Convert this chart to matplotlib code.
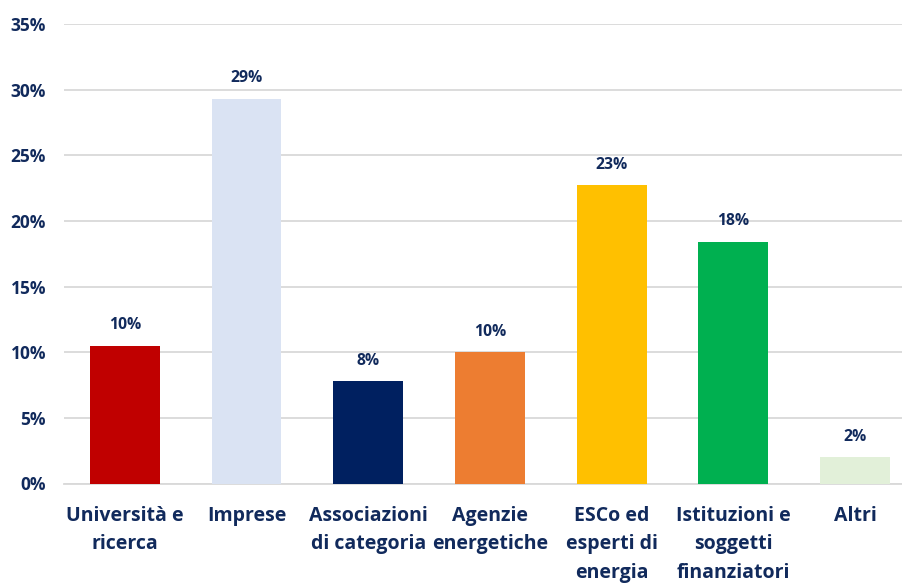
import matplotlib
matplotlib.use("Agg")
import matplotlib.pyplot as plt
from matplotlib.ticker import FuncFormatter

categories = ["Università e\nricerca", "Imprese", "Associazioni\ndi categoria", "Agenzie\nenergetiche",
              "ESCo ed\nesperti di\nenergia", "Istituzioni e\nsoggetti\nfinanziatori", "Altri"]
values = [10.5, 29.3, 7.8, 10.0, 22.7, 18.4, 2.0]
labels = ["10%", "29%", "8%", "10%", "23%", "18%", "2%"]
colors = ["#C00000", "#DAE3F3", "#002060", "#ED7D31", "#FFC000", "#00B050", "#E2F0D9"]
yticks = [0, 5, 10, 15, 20, 25, 30, 35]

txt = "#112A5C"
plt.rcParams['font.family'] = ['Open Sans', 'DejaVu Sans']

W, H = 903, 583
fig = plt.figure(figsize=(W/100, H/100), dpi=100)
ax = fig.add_axes([64/W, 1-483.5/H, (W-64)/W, (483.5-24)/H])

x = range(len(categories))
ax.bar(x, values, width=70/122, color=colors, zorder=3)
for i, (v, l) in enumerate(zip(values, labels)):
    ax.annotate(l, (i, v), xytext=(0, 9), textcoords="offset points", ha="center", va="bottom",
                fontsize=11.3, fontweight="bold", color=txt)

ax.set_xlim(-0.5, 6.5 - 13/122)
ax.set_ylim(0, 35)
ax.set_yticks(yticks)
ax.yaxis.set_major_formatter(FuncFormatter(lambda v, p: f"{int(v)}%"))
ax.set_xticks(list(x))
ax.set_xticklabels(categories, fontsize=14, fontweight="bold", color=txt, linespacing=1.58)
for t in ax.get_yticklabels():
    t.set_fontsize(12.5)
    t.set_fontweight("bold")
    t.set_color(txt)
ax.tick_params(axis="both", length=0)
ax.tick_params(axis="x", pad=16)
ax.tick_params(axis="y", pad=13)
ax.grid(axis="y", color="#D9D9D9", linewidth=1.3, zorder=0)
for s in ["top", "right", "left"]:
    ax.spines[s].set_visible(False)
ax.spines["bottom"].set_color("#D9D9D9")
ax.spines["bottom"].set_linewidth(1.3)

fig.savefig("out.png", dpi=100)
